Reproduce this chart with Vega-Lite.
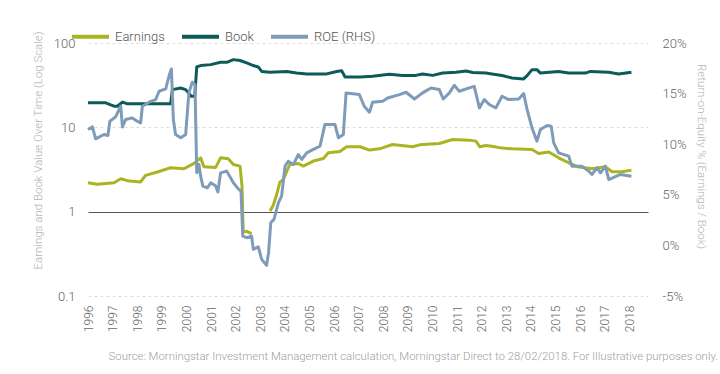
{
  "$schema": "https://vega.github.io/schema/vega-lite/v6.json",
  "width": 560,
  "height": 253,
  "autosize": {"type": "none"},
  "padding": {"left": 88, "top": 43, "right": 72, "bottom": 78},
  "background": "white",
  "config": {
    "view": {"stroke": null},
    "font": "Roboto",
    "axis": {"labelColor": "#666", "titleColor": "#b3b3b3", "titleFontWeight": 300, "labelFontWeight": 300, "ticks": false, "domain": false},
    "legend": {"labelFontWeight": 300}
  },
  "title": {
    "text": "Source: Morningstar Investment Management calculation, Morningstar Direct to 28/02/2018. For Illustrative purposes only.",
    "orient": "bottom",
    "anchor": "end",
    "fontSize": 11.4,
    "fontWeight": 300,
    "color": "#a0a0a0",
    "offset": 19,
    "dx": 12
  },
  "datasets": {
    "lhs": [
      {"t": 1996.0, "s": "Book", "v": 19.5, "g": "B"},
      {"t": 1996.72, "s": "Book", "v": 19.5, "g": "B"},
      {"t": 1996.95, "s": "Book", "v": 18.3, "g": "B"},
      {"t": 1997.06, "s": "Book", "v": 17.8, "g": "B"},
      {"t": 1997.19, "s": "Book", "v": 17.8, "g": "B"},
      {"t": 1997.4, "s": "Book", "v": 19.9, "g": "B"},
      {"t": 1997.6, "s": "Book", "v": 19.0, "g": "B"},
      {"t": 1998.55, "s": "Book", "v": 19.0, "g": "B"},
      {"t": 1999.36, "s": "Book", "v": 19.0, "g": "B"},
      {"t": 1999.43, "s": "Book", "v": 28.0, "g": "B"},
      {"t": 1999.77, "s": "Book", "v": 29.3, "g": "B"},
      {"t": 1999.97, "s": "Book", "v": 28.0, "g": "B"},
      {"t": 2000.2, "s": "Book", "v": 23.4, "g": "B"},
      {"t": 2000.34, "s": "Book", "v": 23.4, "g": "B"},
      {"t": 2000.42, "s": "Book", "v": 52, "g": "B"},
      {"t": 2000.58, "s": "Book", "v": 54, "g": "B"},
      {"t": 2000.99, "s": "Book", "v": 55.4, "g": "B"},
      {"t": 2001.39, "s": "Book", "v": 59, "g": "B"},
      {"t": 2001.64, "s": "Book", "v": 59, "g": "B"},
      {"t": 2001.91, "s": "Book", "v": 63.5, "g": "B"},
      {"t": 2002.18, "s": "Book", "v": 62, "g": "B"},
      {"t": 2002.45, "s": "Book", "v": 58, "g": "B"},
      {"t": 2002.72, "s": "Book", "v": 54, "g": "B"},
      {"t": 2002.92, "s": "Book", "v": 52, "g": "B"},
      {"t": 2003.06, "s": "Book", "v": 46, "g": "B"},
      {"t": 2003.4, "s": "Book", "v": 45, "g": "B"},
      {"t": 2004.08, "s": "Book", "v": 46, "g": "B"},
      {"t": 2004.48, "s": "Book", "v": 44, "g": "B"},
      {"t": 2004.89, "s": "Book", "v": 43, "g": "B"},
      {"t": 2005.7, "s": "Book", "v": 43, "g": "B"},
      {"t": 2006.11, "s": "Book", "v": 46, "g": "B"},
      {"t": 2006.31, "s": "Book", "v": 47, "g": "B"},
      {"t": 2006.45, "s": "Book", "v": 39.6, "g": "B"},
      {"t": 2007.06, "s": "Book", "v": 39.6, "g": "B"},
      {"t": 2007.57, "s": "Book", "v": 40.3, "g": "B"},
      {"t": 2008.25, "s": "Book", "v": 42.6, "g": "B"},
      {"t": 2008.79, "s": "Book", "v": 41.3, "g": "B"},
      {"t": 2009.33, "s": "Book", "v": 41.3, "g": "B"},
      {"t": 2009.6, "s": "Book", "v": 43, "g": "B"},
      {"t": 2010.01, "s": "Book", "v": 41.3, "g": "B"},
      {"t": 2010.42, "s": "Book", "v": 44, "g": "B"},
      {"t": 2010.96, "s": "Book", "v": 45, "g": "B"},
      {"t": 2011.37, "s": "Book", "v": 46.6, "g": "B"},
      {"t": 2011.64, "s": "Book", "v": 44.7, "g": "B"},
      {"t": 2012.18, "s": "Book", "v": 44, "g": "B"},
      {"t": 2012.42, "s": "Book", "v": 43, "g": "B"},
      {"t": 2012.83, "s": "Book", "v": 41.1, "g": "B"},
      {"t": 2013.24, "s": "Book", "v": 38.5, "g": "B"},
      {"t": 2013.71, "s": "Book", "v": 37.5, "g": "B"},
      {"t": 2013.85, "s": "Book", "v": 41, "g": "B"},
      {"t": 2014.05, "s": "Book", "v": 48.3, "g": "B"},
      {"t": 2014.25, "s": "Book", "v": 48.3, "g": "B"},
      {"t": 2014.39, "s": "Book", "v": 44, "g": "B"},
      {"t": 2015.13, "s": "Book", "v": 46, "g": "B"},
      {"t": 2015.54, "s": "Book", "v": 44, "g": "B"},
      {"t": 2016.22, "s": "Book", "v": 44, "g": "B"},
      {"t": 2016.42, "s": "Book", "v": 46, "g": "B"},
      {"t": 2017.17, "s": "Book", "v": 45, "g": "B"},
      {"t": 2017.57, "s": "Book", "v": 43, "g": "B"},
      {"t": 2018.09, "s": "Book", "v": 45, "g": "B"},
      {"t": 1996.0, "s": "Earnings", "v": 2.2, "g": "E1"},
      {"t": 1996.38, "s": "Earnings", "v": 2.11, "g": "E1"},
      {"t": 1997.06, "s": "Earnings", "v": 2.2, "g": "E1"},
      {"t": 1997.33, "s": "Earnings", "v": 2.46, "g": "E1"},
      {"t": 1997.6, "s": "Earnings", "v": 2.33, "g": "E1"},
      {"t": 1998.14, "s": "Earnings", "v": 2.25, "g": "E1"},
      {"t": 1998.34, "s": "Earnings", "v": 2.69, "g": "E1"},
      {"t": 1998.82, "s": "Earnings", "v": 2.95, "g": "E1"},
      {"t": 1999.36, "s": "Earnings", "v": 3.32, "g": "E1"},
      {"t": 1999.9, "s": "Earnings", "v": 3.23, "g": "E1"},
      {"t": 2000.31, "s": "Earnings", "v": 3.73, "g": "E1"},
      {"t": 2000.58, "s": "Earnings", "v": 4.35, "g": "E1"},
      {"t": 2000.71, "s": "Earnings", "v": 3.41, "g": "E1"},
      {"t": 2001.19, "s": "Earnings", "v": 3.35, "g": "E1"},
      {"t": 2001.39, "s": "Earnings", "v": 4.35, "g": "E1"},
      {"t": 2001.7, "s": "Earnings", "v": 4.24, "g": "E1"},
      {"t": 2001.91, "s": "Earnings", "v": 3.63, "g": "E1"},
      {"t": 2002.18, "s": "Earnings", "v": 3.47, "g": "E1"},
      {"t": 2002.26, "s": "Earnings", "v": 2.01, "g": "E1"},
      {"t": 2002.31, "s": "Earnings", "v": 0.575, "g": "E1"},
      {"t": 2002.45, "s": "Earnings", "v": 0.585, "g": "E1"},
      {"t": 2002.65, "s": "Earnings", "v": 0.55, "g": "E1"},
      {"t": 2003.4, "s": "Earnings", "v": 1.02, "g": "E2"},
      {"t": 2003.53, "s": "Earnings", "v": 1.19, "g": "E2"},
      {"t": 2003.67, "s": "Earnings", "v": 1.6, "g": "E2"},
      {"t": 2003.8, "s": "Earnings", "v": 2.24, "g": "E2"},
      {"t": 2003.94, "s": "Earnings", "v": 2.41, "g": "E2"},
      {"t": 2004.08, "s": "Earnings", "v": 3.03, "g": "E2"},
      {"t": 2004.21, "s": "Earnings", "v": 3.63, "g": "E2"},
      {"t": 2004.55, "s": "Earnings", "v": 3.73, "g": "E2"},
      {"t": 2004.75, "s": "Earnings", "v": 3.47, "g": "E2"},
      {"t": 2005.16, "s": "Earnings", "v": 3.98, "g": "E2"},
      {"t": 2005.57, "s": "Earnings", "v": 4.27, "g": "E2"},
      {"t": 2005.77, "s": "Earnings", "v": 4.99, "g": "E2"},
      {"t": 2006.24, "s": "Earnings", "v": 5.18, "g": "E2"},
      {"t": 2006.51, "s": "Earnings", "v": 5.88, "g": "E2"},
      {"t": 2007.06, "s": "Earnings", "v": 5.88, "g": "E2"},
      {"t": 2007.44, "s": "Earnings", "v": 5.37, "g": "E2"},
      {"t": 2007.84, "s": "Earnings", "v": 5.56, "g": "E2"},
      {"t": 2008.38, "s": "Earnings", "v": 6.26, "g": "E2"},
      {"t": 2009.2, "s": "Earnings", "v": 5.88, "g": "E2"},
      {"t": 2009.47, "s": "Earnings", "v": 6.2, "g": "E2"},
      {"t": 2010.28, "s": "Earnings", "v": 6.44, "g": "E2"},
      {"t": 2010.82, "s": "Earnings", "v": 7.18, "g": "E2"},
      {"t": 2011.5, "s": "Earnings", "v": 7.05, "g": "E2"},
      {"t": 2011.77, "s": "Earnings", "v": 6.86, "g": "E2"},
      {"t": 2011.93, "s": "Earnings", "v": 5.88, "g": "E2"},
      {"t": 2012.18, "s": "Earnings", "v": 6.1, "g": "E2"},
      {"t": 2012.42, "s": "Earnings", "v": 5.98, "g": "E2"},
      {"t": 2012.83, "s": "Earnings", "v": 5.67, "g": "E2"},
      {"t": 2013.24, "s": "Earnings", "v": 5.56, "g": "E2"},
      {"t": 2014.05, "s": "Earnings", "v": 5.47, "g": "E2"},
      {"t": 2014.32, "s": "Earnings", "v": 4.9, "g": "E2"},
      {"t": 2014.73, "s": "Earnings", "v": 5.09, "g": "E2"},
      {"t": 2015.13, "s": "Earnings", "v": 4.35, "g": "E2"},
      {"t": 2015.54, "s": "Earnings", "v": 3.8, "g": "E2"},
      {"t": 2015.95, "s": "Earnings", "v": 3.38, "g": "E2"},
      {"t": 2016.49, "s": "Earnings", "v": 3.23, "g": "E2"},
      {"t": 2017.03, "s": "Earnings", "v": 3.41, "g": "E2"},
      {"t": 2017.3, "s": "Earnings", "v": 2.97, "g": "E2"},
      {"t": 2017.71, "s": "Earnings", "v": 2.97, "g": "E2"},
      {"t": 2018.09, "s": "Earnings", "v": 3.11, "g": "E2"}
    ],
    "rhs": [
      {"t": 1996.0, "s": "ROE (RHS)", "v": 11.45},
      {"t": 1996.18, "s": "ROE (RHS)", "v": 11.71},
      {"t": 1996.31, "s": "ROE (RHS)", "v": 10.53},
      {"t": 1996.65, "s": "ROE (RHS)", "v": 10.96},
      {"t": 1996.81, "s": "ROE (RHS)", "v": 10.86},
      {"t": 1996.89, "s": "ROE (RHS)", "v": 12.27},
      {"t": 1997.12, "s": "ROE (RHS)", "v": 12.7},
      {"t": 1997.33, "s": "ROE (RHS)", "v": 13.75},
      {"t": 1997.4, "s": "ROE (RHS)", "v": 11.71},
      {"t": 1997.53, "s": "ROE (RHS)", "v": 12.44},
      {"t": 1997.8, "s": "ROE (RHS)", "v": 12.6},
      {"t": 1998.0, "s": "ROE (RHS)", "v": 12.27},
      {"t": 1998.14, "s": "ROE (RHS)", "v": 12.1},
      {"t": 1998.21, "s": "ROE (RHS)", "v": 13.75},
      {"t": 1998.55, "s": "ROE (RHS)", "v": 14.24},
      {"t": 1998.75, "s": "ROE (RHS)", "v": 14.41},
      {"t": 1998.89, "s": "ROE (RHS)", "v": 15.23},
      {"t": 1999.16, "s": "ROE (RHS)", "v": 15.46},
      {"t": 1999.29, "s": "ROE (RHS)", "v": 16.71},
      {"t": 1999.39, "s": "ROE (RHS)", "v": 17.43},
      {"t": 1999.47, "s": "ROE (RHS)", "v": 12.44},
      {"t": 1999.56, "s": "ROE (RHS)", "v": 10.96},
      {"t": 1999.77, "s": "ROE (RHS)", "v": 10.63},
      {"t": 1999.97, "s": "ROE (RHS)", "v": 10.96},
      {"t": 2000.1, "s": "ROE (RHS)", "v": 15.07},
      {"t": 2000.24, "s": "ROE (RHS)", "v": 16.12},
      {"t": 2000.35, "s": "ROE (RHS)", "v": 15.89},
      {"t": 2000.42, "s": "ROE (RHS)", "v": 7.17},
      {"t": 2000.51, "s": "ROE (RHS)", "v": 8.0},
      {"t": 2000.58, "s": "ROE (RHS)", "v": 6.84},
      {"t": 2000.67, "s": "ROE (RHS)", "v": 5.86},
      {"t": 2000.85, "s": "ROE (RHS)", "v": 5.69},
      {"t": 2000.99, "s": "ROE (RHS)", "v": 6.19},
      {"t": 2001.19, "s": "ROE (RHS)", "v": 5.86},
      {"t": 2001.28, "s": "ROE (RHS)", "v": 5.27},
      {"t": 2001.39, "s": "ROE (RHS)", "v": 7.17},
      {"t": 2001.64, "s": "ROE (RHS)", "v": 7.34},
      {"t": 2001.91, "s": "ROE (RHS)", "v": 6.19},
      {"t": 2002.11, "s": "ROE (RHS)", "v": 5.59},
      {"t": 2002.22, "s": "ROE (RHS)", "v": 5.36},
      {"t": 2002.29, "s": "ROE (RHS)", "v": 0.92},
      {"t": 2002.45, "s": "ROE (RHS)", "v": 0.76},
      {"t": 2002.65, "s": "ROE (RHS)", "v": 0.92},
      {"t": 2002.72, "s": "ROE (RHS)", "v": -0.39},
      {"t": 2002.92, "s": "ROE (RHS)", "v": -0.13},
      {"t": 2003.06, "s": "ROE (RHS)", "v": -1.38},
      {"t": 2003.26, "s": "ROE (RHS)", "v": -1.97},
      {"t": 2003.34, "s": "ROE (RHS)", "v": -0.72},
      {"t": 2003.43, "s": "ROE (RHS)", "v": 2.24},
      {"t": 2003.56, "s": "ROE (RHS)", "v": 2.57},
      {"t": 2003.74, "s": "ROE (RHS)", "v": 4.21},
      {"t": 2003.87, "s": "ROE (RHS)", "v": 4.87},
      {"t": 2004.01, "s": "ROE (RHS)", "v": 7.83},
      {"t": 2004.14, "s": "ROE (RHS)", "v": 8.32},
      {"t": 2004.35, "s": "ROE (RHS)", "v": 8.0},
      {"t": 2004.55, "s": "ROE (RHS)", "v": 8.98},
      {"t": 2004.69, "s": "ROE (RHS)", "v": 8.49},
      {"t": 2004.89, "s": "ROE (RHS)", "v": 9.15},
      {"t": 2005.16, "s": "ROE (RHS)", "v": 9.48},
      {"t": 2005.43, "s": "ROE (RHS)", "v": 9.8},
      {"t": 2005.63, "s": "ROE (RHS)", "v": 11.94},
      {"t": 2006.04, "s": "ROE (RHS)", "v": 11.94},
      {"t": 2006.18, "s": "ROE (RHS)", "v": 10.63},
      {"t": 2006.38, "s": "ROE (RHS)", "v": 10.96},
      {"t": 2006.49, "s": "ROE (RHS)", "v": 15.07},
      {"t": 2007.03, "s": "ROE (RHS)", "v": 14.9},
      {"t": 2007.23, "s": "ROE (RHS)", "v": 13.75},
      {"t": 2007.44, "s": "ROE (RHS)", "v": 13.16},
      {"t": 2007.57, "s": "ROE (RHS)", "v": 14.15},
      {"t": 2007.98, "s": "ROE (RHS)", "v": 14.24},
      {"t": 2008.18, "s": "ROE (RHS)", "v": 14.57},
      {"t": 2008.66, "s": "ROE (RHS)", "v": 14.9},
      {"t": 2008.93, "s": "ROE (RHS)", "v": 15.13},
      {"t": 2009.27, "s": "ROE (RHS)", "v": 14.47},
      {"t": 2009.6, "s": "ROE (RHS)", "v": 15.07},
      {"t": 2009.94, "s": "ROE (RHS)", "v": 15.56},
      {"t": 2010.28, "s": "ROE (RHS)", "v": 15.4},
      {"t": 2010.44, "s": "ROE (RHS)", "v": 14.47},
      {"t": 2010.69, "s": "ROE (RHS)", "v": 15.07},
      {"t": 2010.89, "s": "ROE (RHS)", "v": 15.82},
      {"t": 2011.09, "s": "ROE (RHS)", "v": 15.23},
      {"t": 2011.5, "s": "ROE (RHS)", "v": 15.56},
      {"t": 2011.7, "s": "ROE (RHS)", "v": 15.72},
      {"t": 2011.91, "s": "ROE (RHS)", "v": 13.59},
      {"t": 2012.11, "s": "ROE (RHS)", "v": 14.41},
      {"t": 2012.31, "s": "ROE (RHS)", "v": 13.92},
      {"t": 2012.58, "s": "ROE (RHS)", "v": 13.59},
      {"t": 2012.83, "s": "ROE (RHS)", "v": 14.74},
      {"t": 2013.1, "s": "ROE (RHS)", "v": 14.41},
      {"t": 2013.51, "s": "ROE (RHS)", "v": 14.47},
      {"t": 2013.71, "s": "ROE (RHS)", "v": 15.0},
      {"t": 2013.85, "s": "ROE (RHS)", "v": 13.42},
      {"t": 2014.05, "s": "ROE (RHS)", "v": 11.61},
      {"t": 2014.25, "s": "ROE (RHS)", "v": 10.3},
      {"t": 2014.39, "s": "ROE (RHS)", "v": 11.45},
      {"t": 2014.66, "s": "ROE (RHS)", "v": 11.84},
      {"t": 2014.83, "s": "ROE (RHS)", "v": 11.78},
      {"t": 2014.93, "s": "ROE (RHS)", "v": 10.13},
      {"t": 2015.13, "s": "ROE (RHS)", "v": 9.15},
      {"t": 2015.54, "s": "ROE (RHS)", "v": 8.82},
      {"t": 2015.67, "s": "ROE (RHS)", "v": 7.83},
      {"t": 2016.08, "s": "ROE (RHS)", "v": 7.83},
      {"t": 2016.35, "s": "ROE (RHS)", "v": 7.34},
      {"t": 2016.49, "s": "ROE (RHS)", "v": 7.01},
      {"t": 2016.69, "s": "ROE (RHS)", "v": 7.67},
      {"t": 2016.83, "s": "ROE (RHS)", "v": 7.17},
      {"t": 2017.03, "s": "ROE (RHS)", "v": 7.83},
      {"t": 2017.17, "s": "ROE (RHS)", "v": 6.51},
      {"t": 2017.64, "s": "ROE (RHS)", "v": 7.01},
      {"t": 2018.09, "s": "ROE (RHS)", "v": 6.84}
    ]
  },
  "encoding": {
    "x": {
      "field": "t",
      "type": "quantitative",
      "scale": {"domain": [1996, 2018.764], "nice": false, "zero": false},
      "axis": {
        "values": [1996, 1997, 1998, 1999, 2000, 2001, 2002, 2003, 2004, 2005, 2006, 2007, 2008, 2009, 2010, 2011, 2012, 2013, 2014, 2015, 2016, 2017, 2018],
        "format": "d",
        "labelAngle": 270,
        "labelFontSize": 12,
        "labelPadding": 9,
        "labelDx": 2,
        "grid": false,
        "title": null
      }
    },
    "color": {
      "field": "s",
      "type": "nominal",
      "scale": {"domain": ["Earnings", "Book", "ROE (RHS)"], "range": ["#a9b421", "#0c5b58", "#7f9bba"]},
      "legend": {
        "orient": "none",
        "legendX": -18,
        "legendY": -27,
        "direction": "horizontal",
        "title": null,
        "symbolType": "stroke",
        "symbolSize": 1369,
        "symbolStrokeWidth": 4,
        "labelFontSize": 13,
        "labelColor": "#555",
        "labelOffset": 4,
        "columnPadding": 9
      }
    }
  },
  "layer": [
    {
      "data": {"name": "lhs"},
      "mark": {"type": "line", "strokeWidth": 3, "strokeJoin": "round"},
      "encoding": {
        "y": {
          "field": "v",
          "type": "quantitative",
          "scale": {"type": "log", "domain": [0.1, 100], "nice": false},
          "axis": {
            "orient": "left",
            "values": [0.1, 1, 10, 100],
            "format": "~g",
            "labelFontSize": 13,
            "labelPadding": 13,
            "grid": true,
            "gridColor": {"condition": {"test": "datum.value === 1", "value": "#555"}, "value": "#dddddd"},
            "gridDash": {"condition": {"test": "datum.value === 1", "value": []}, "value": [3, 3]},
            "title": "Earnings and Book Value Over Time (Log Scale)",
            "titleFontSize": 11.5,
            "titleX": -50,
            "titleY": 107,
            "titleBaseline": "middle",
            "titleAngle": 270
          }
        },
        "detail": {"field": "g"}
      }
    },
    {
      "data": {"name": "rhs"},
      "mark": {"type": "line", "strokeWidth": 3, "strokeJoin": "round"},
      "encoding": {
        "y": {
          "field": "v",
          "type": "quantitative",
          "scale": {"domain": [-5, 20], "nice": false, "zero": false},
          "axis": {
            "orient": "right",
            "values": [-5, 0, 5, 10, 15, 20],
            "labelExpr": "datum.value + '%'",
            "labelFontSize": 13,
            "labelPadding": 14,
            "grid": false,
            "title": "Return-on-Equity % (Earnings / Book)",
            "titleFontSize": 11.5,
            "titleX": 52,
            "titleY": 113,
            "titleBaseline": "middle",
            "titleAngle": 90
          }
        }
      }
    }
  ],
  "resolve": {"scale": {"y": "independent"}}
}
